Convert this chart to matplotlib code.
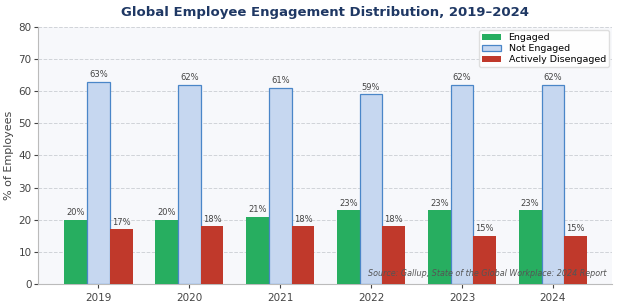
import numpy as np
import matplotlib.pyplot as plt

years = ["2019", "2020", "2021", "2022", "2023", "2024"]
engaged = [20, 20, 21, 23, 23, 23]
not_engaged = [63, 62, 61, 59, 62, 62]
disengaged = [17, 18, 18, 18, 15, 15]

fig, ax = plt.subplots(figsize=(6.2, 3.07), dpi=100)
fig.subplots_adjust(left=0.062, right=0.987, top=0.912, bottom=0.075)
ax.set_facecolor("#f7f8fb")

x = np.arange(len(years))
w = 0.25
b1 = ax.bar(x - w, engaged, w, color="#27ae60", label="Engaged", zorder=3)
b2 = ax.bar(x, not_engaged, w, color="#c6d7f0", edgecolor="#4a86c8", linewidth=0.9,
            label="Not Engaged", zorder=3)
b3 = ax.bar(x + w, disengaged, w, color="#c0392b", label="Actively Disengaged", zorder=3)

for bars in (b1, b2, b3):
    for b in bars:
        ax.text(b.get_x() + b.get_width() / 2, b.get_height() + 0.8, f"{b.get_height():.0f}%",
                ha="center", va="bottom", fontsize=6, color="#444444")

ax.set_xticks(x)
ax.set_xticklabels(years, fontsize=7.5, color="#333333")
ax.set_xlim(-0.66, 5.65)
ax.set_ylim(0, 80)
ax.set_yticks(range(0, 81, 10))
ax.tick_params(axis="y", labelsize=7.5, colors="#444444", length=3, pad=2)
ax.tick_params(axis="x", length=3, colors="#444444")
ax.set_ylabel("% of Employees", fontsize=8, color="#444444", labelpad=3)
ax.set_title("Global Employee Engagement Distribution, 2019\u20132024", fontsize=9.5,
             fontweight="bold", color="#1f3864", pad=8)
ax.grid(axis="y", linestyle="--", color="#d0d3d8", linewidth=0.7, zorder=0)
for s in ("top", "right"):
    ax.spines[s].set_visible(False)
for s in ("left", "bottom"):
    ax.spines[s].set_color("#bbbbbb")

ax.legend(loc="upper right", fontsize=6.8, frameon=True, framealpha=0.95,
          edgecolor="#dddddd", handlelength=2.0, handleheight=0.6, borderpad=0.35,
          labelspacing=0.2, borderaxespad=0.3)
ax.text(0.99, 0.025, "Source: Gallup, State of the Global Workplace: 2024 Report",
        transform=ax.transAxes, ha="right", va="bottom", fontsize=5.8,
        style="italic", color="#555555", zorder=5)

fig.savefig("out.png", dpi=100)
